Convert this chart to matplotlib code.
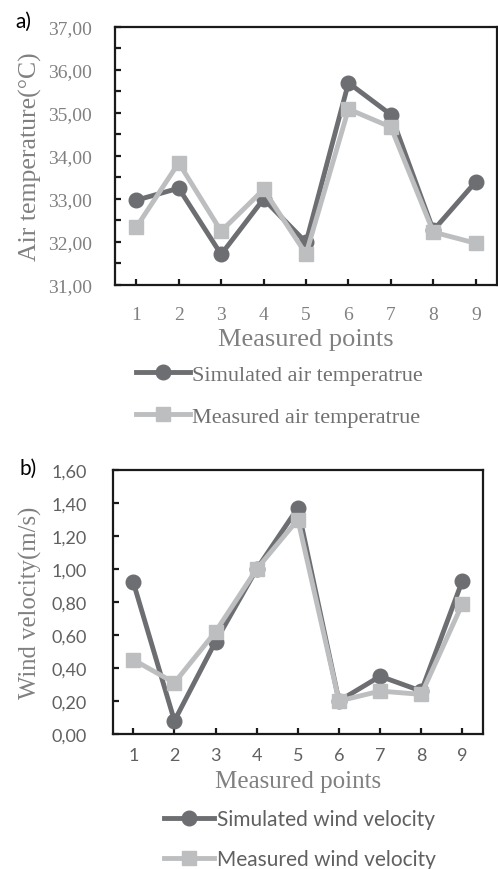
import matplotlib.pyplot as plt
from matplotlib.ticker import MultipleLocator, FuncFormatter

# data
points = [1, 2, 3, 4, 5, 6, 7, 8, 9]
sim_temp = [32.97, 33.25, 31.71, 33.00, 31.99, 35.70, 34.96, 32.27, 33.40]
meas_temp = [32.34, 33.84, 32.25, 33.22, 31.72, 35.09, 34.67, 32.23, 31.97]
sim_wind = [0.92, 0.08, 0.56, 1.00, 1.37, 0.20, 0.35, 0.26, 0.93]
meas_wind = [0.45, 0.31, 0.62, 1.00, 1.30, 0.20, 0.26, 0.24, 0.79]

dark = '#6d6e71'
light = '#bdbec0'
serif = 'Liberation Serif'
sans = 'Lato'

fig = plt.figure(figsize=(4.98, 8.70), dpi=100)

comma = FuncFormatter(lambda v, p: f'{v:.2f}'.replace('.', ','))


def style_axes(ax, tick_font, tick_color, ypad, xpad):
    for s in ax.spines.values():
        s.set_linewidth(1.6)
        s.set_color('#1a1a1a')
    ax.tick_params(axis='both', direction='in', length=4, width=1.6,
                   color='#1a1a1a', labelcolor=tick_color)
    ax.tick_params(axis='y', pad=ypad)
    ax.tick_params(axis='x', pad=xpad)
    ax.set_xlim(0.5, 9.5)
    ax.set_xticks(points)
    for lab in ax.get_xticklabels() + ax.get_yticklabels():
        lab.set_fontfamily(tick_font)


# a) air temperature
ax1 = fig.add_axes([0.231, 0.6713, 0.767, 0.2966])
ax1.plot(points, sim_temp, color=dark, lw=3.5, marker='o', ms=10.5, label='Simulated air temperatrue')
ax1.plot(points, meas_temp, color=light, lw=3.5, marker='s', ms=10, label='Measured air temperatrue')
ax1.set_ylim(31, 37)
ax1.yaxis.set_major_locator(MultipleLocator(0.5))
ax1.yaxis.set_major_formatter(FuncFormatter(lambda v, p: f'{v:.2f}'.replace('.', ',') if v == int(v) else ''))
style_axes(ax1, serif, '#808080', 16.5, 15)
for lab in ax1.get_xticklabels() + ax1.get_yticklabels():
    lab.set_fontsize(14)
ax1.set_ylabel('Air temperature(°C)', family=serif, fontsize=18.5, color='#808080')
ax1.yaxis.set_label_coords(-0.191, 0.5)
ax1.set_xlabel('Measured points', family=serif, fontsize=19, color='#808080')
ax1.xaxis.set_label_coords(0.5, -0.165)
ax1.legend(loc='upper left', bbox_to_anchor=(0.256, 0.59), bbox_transform=fig.transFigure,
           frameon=False, prop={'family': serif, 'size': 16}, labelcolor='#707070',
           handlelength=2.4, handletextpad=0.1, labelspacing=0.95, borderaxespad=0)
fig.text(0.03, 0.975, 'a)', family=sans, fontsize=15, va='center', ha='left')

# b) wind velocity
ax2 = fig.add_axes([0.2263, 0.1552, 0.7436, 0.3034])
ax2.plot(points, sim_wind, color=dark, lw=3.5, marker='o', ms=10.5, label='Simulated wind velocity')
ax2.plot(points, meas_wind, color=light, lw=3.5, marker='s', ms=10, label='Measured wind velocity')
ax2.set_ylim(0, 1.6)
ax2.yaxis.set_major_locator(MultipleLocator(0.2))
ax2.yaxis.set_major_formatter(comma)
style_axes(ax2, sans, '#606060', 18.5, 9.5)
for lab in ax2.get_xticklabels() + ax2.get_yticklabels():
    lab.set_fontsize(13)
ax2.set_ylabel('Wind velocity(m/s)', family=serif, fontsize=17.8, color='#808080')
ax2.yaxis.set_label_coords(-0.191, 0.5)
ax2.set_xlabel('Measured points', family=serif, fontsize=18, color='#808080')
ax2.xaxis.set_label_coords(0.5, -0.135)
ax2.legend(loc='upper left', bbox_to_anchor=(0.313, 0.078), bbox_transform=fig.transFigure,
           frameon=False, prop={'family': sans, 'size': 15}, labelcolor='#606060',
           handlelength=2.4, handletextpad=0.15, labelspacing=0.95, borderaxespad=0)
fig.text(0.04, 0.461, 'b)', family=sans, fontsize=15, va='center', ha='left')

fig.savefig('out.png', dpi=100)
plt.close(fig)
